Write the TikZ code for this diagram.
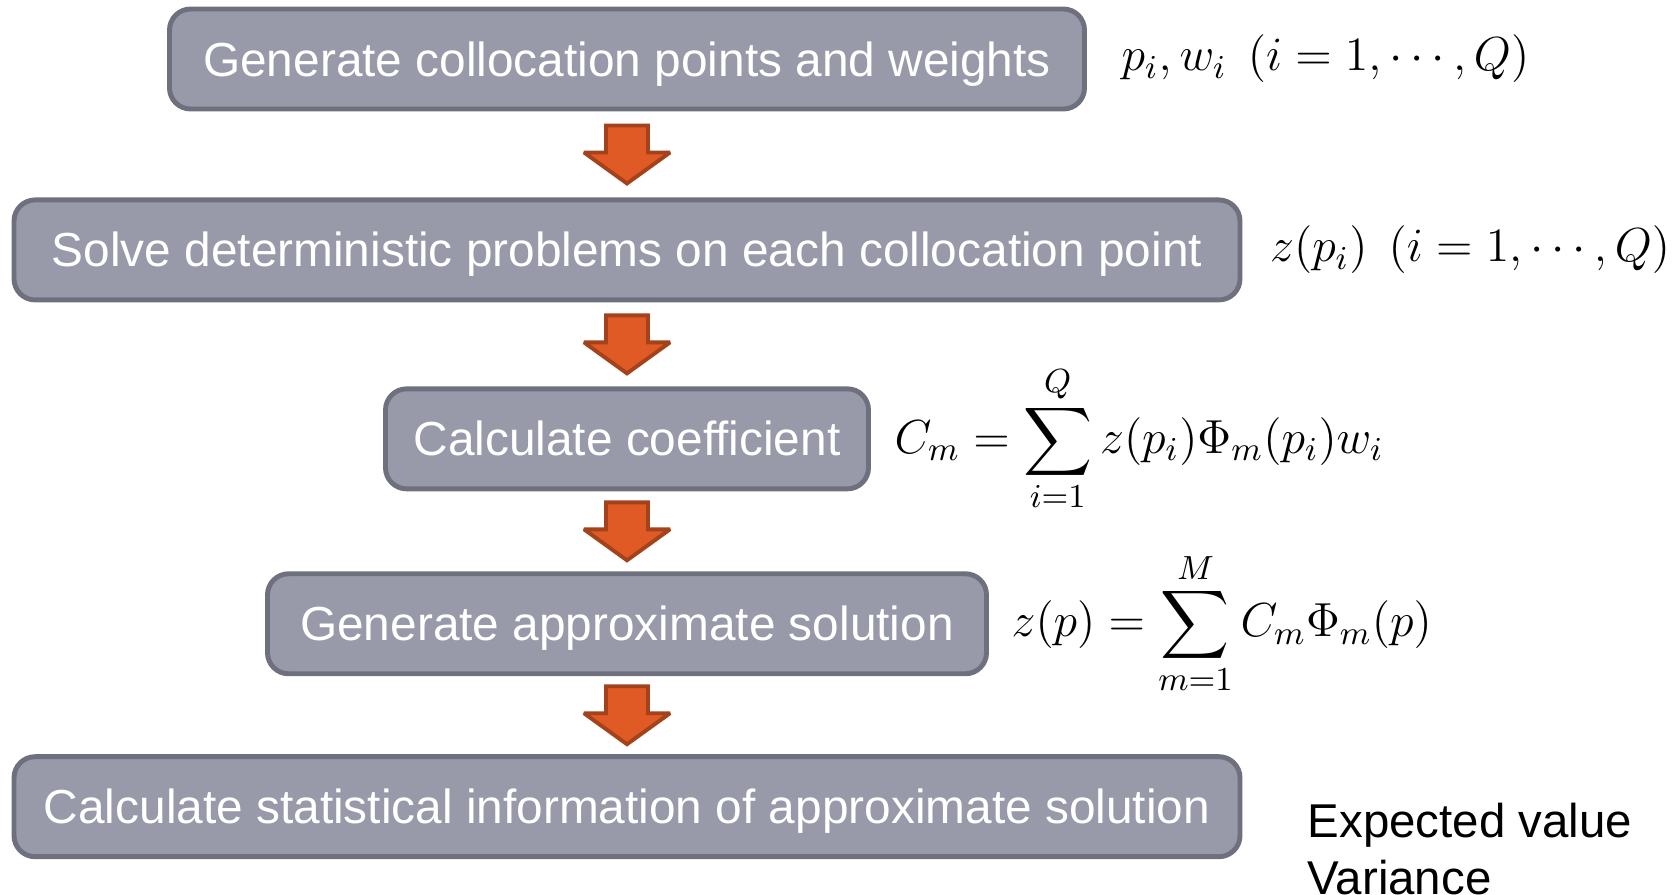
\RequirePackage{fix-cm}
\documentclass[tikz,border=0pt]{standalone}
\usepackage{fontspec}
\usepackage{graphicx}
\setmainfont{Liberation Sans}
\usetikzlibrary{positioning,calc}

\definecolor{boxfill}{RGB}{152,153,169}
\definecolor{boxline}{RGB}{111,112,126}
\definecolor{arrowfill}{RGB}{223,90,36}
\definecolor{arrowline}{RGB}{164,66,27}

% summation sign at the size of the formulas
\newcommand{\bigsum}{\mathop{\vcenter{\hbox{\scalebox{1.36}{$\displaystyle\sum$}}}}\limits}

\begin{document}
\begin{tikzpicture}[
    stepbox/.style={draw=boxline, fill=boxfill, line width=1.4pt, rounded corners=6pt,
        minimum height=1cm, text=white, font=\fontsize{13.6}{16}\selectfont, inner sep=0pt,
        text height=12pt, text depth=2.3pt},
    eqlabel/.style={font=\fontsize{13.6}{16}\selectfont, inner sep=0pt, anchor=west},
    blockarrow/.style={draw=arrowline, fill=arrowfill, line width=1.1pt, line join=miter, miter limit=3}
]
    \useasboundingbox (0,0) rectangle (16.77,-8.94);

    % Steps
    \node[stepbox, minimum width=9.15cm] (gen) at (6.27,-0.59) {Generate collocation points and weights};
    \node[stepbox, minimum width=12.26cm, below=0.86cm of gen] (solve) {Solve deterministic problems on each collocation point};
    \node[stepbox, minimum width=4.83cm, below=0.84cm of solve] (coef) {Calculate coefficient};
    \node[stepbox, minimum width=7.19cm, below=0.80cm of coef] (approx) {Generate approximate solution};
    \node[stepbox, minimum width=12.26cm, below=0.78cm of approx] (stat) {Calculate statistical information of approximate solution};

    % Block arrows between steps
    \foreach \a/\b in {gen/solve, solve/coef, coef/approx, approx/stat} {
        \coordinate (m) at ($(\a.south)!0.5!(\b.north)$);
        \draw[blockarrow] ($(m)+(-0.21,0.29)$) -- ($(m)+(0.21,0.29)$) -- ($(m)+(0.21,0.02)$)
            -- ($(m)+(0.43,0.02)$) -- ($(m)+(0,-0.29)$) -- ($(m)+(-0.43,0.02)$)
            -- ($(m)+(-0.21,0.02)$) -- cycle;
    }

    % Formulas
    \node[eqlabel, right=0.34cm of gen] (genlab) {$p_i, w_i\ \,(i=1,\cdots,Q)$};
    \node[eqlabel, right=0.27cm of solve] (solvelab) {$z(p_i)\ \,(i=1,\cdots,Q)$};
    \node[eqlabel, right=0.23cm of coef] (coeflab) {$\displaystyle C_m=\bigsum_{i=1}^{Q} z(p_i)\Phi_m(p_i)w_i$};
    \node[eqlabel, right=0.22cm of approx] (approxlab) {$\displaystyle z(p)=\bigsum_{m=1}^{M} C_m\Phi_m(p)$};

    % Outputs
    \node[font=\fontsize{13.5}{16.4}\selectfont, align=left, inner sep=0pt, anchor=north west]
        (statlab) at (13.07,-8.02) {Expected value\\Variance};
\end{tikzpicture}
\end{document}
